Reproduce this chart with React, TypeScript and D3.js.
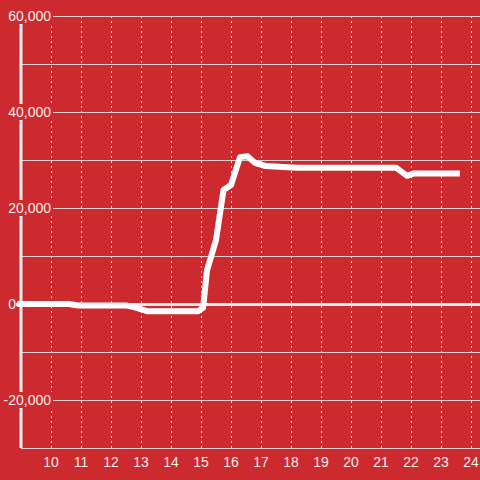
import React from "react";
import * as d3 from "d3";

const xValues = [8.87, 10.6, 10.9, 12.5, 12.8, 13.2, 14.9, 15.07, 15.2, 15.5, 15.75, 16.0, 16.3, 16.55, 16.8, 17.15, 18.2, 21.5, 21.87, 22.1, 23.63];
const yValues = [0, 0, -300, -300, -700, -1500, -1500, -800, 7000, 13300, 23750, 24800, 30600, 30800, 29400, 28750, 28400, 28400, 26700, 27200, 27200];
const xTicks = [10, 11, 12, 13, 14, 15, 16, 17, 18, 19, 20, 21, 22, 23, 24];
const yLabelTicks = [60000, 40000, 20000, 0, -20000];
const yGridTicks = [60000, 50000, 40000, 30000, 20000, 10000, 0, -10000, -20000, -30000];

const W = 480;
const H = 480;
const BG = "#cd2a2f";
const FG = "#eeeeee";

export default function App() {
  const x = d3.scaleLinear().domain([9, 24.3]).range([21, 480]);
  const y = d3.scaleLinear().domain([-30000, 60000]).range([448, 16]);
  const data = xValues.map((v, i) => [v, yValues[i]] as [number, number]);
  const line = d3
    .line<[number, number]>()
    .x((d) => x(d[0]))
    .y((d) => y(d[1]));
  const fmt = d3.format(",");
  const font = "'Liberation Sans', Arial, sans-serif";

  return (
    <svg
      width={W}
      height={H}
      style={{ position: "absolute", left: 0, top: 0, background: BG }}
    >
      <rect x={0} y={0} width={W} height={H} fill={BG} />
      {xTicks.map((t) => (
        <line
          key={"vx" + t}
          x1={x(t) + 0.5}
          x2={x(t) + 0.5}
          y1={y(60000)}
          y2={y(-30000)}
          stroke="#e6dcdc"
          strokeWidth={1}
          strokeDasharray="2,3"
        />
      ))}
      {yGridTicks.map((t) =>
        t === 0 ? null : (
          <line
            key={"hy" + t}
            x1={21}
            x2={W}
            y1={y(t) + 0.5}
            y2={y(t) + 0.5}
            stroke="#cfcfcf"
            strokeWidth={1}
          />
        )
      )}
      <line x1={16} x2={W} y1={y(0) + 0.5} y2={y(0) + 0.5} stroke={FG} strokeWidth={3} />
      <line x1={21} x2={21} y1={y(60000)} y2={y(-30000)} stroke={FG} strokeWidth={3} />
      <path
        d={line(data) || ""}
        fill="none"
        stroke="#ffffff"
        strokeWidth={6}
        strokeLinejoin="round"
      />
      {yLabelTicks.map((t) => {
        const endX = t === 0 ? 16 : 51;
        const label = fmt(t).replace("−", "-");
        return (
          <g key={"yl" + t}>
            {t !== 0 && (
              <rect x={0} y={y(t) - 8} width={53} height={16} fill={BG} />
            )}
            <text
              x={endX}
              y={y(t)}
              dy="0.36em"
              textAnchor="end"
              fill={FG}
              fontSize={14}
              fontFamily={font}
            >
              {label}
            </text>
          </g>
        );
      })}
      {xTicks.map((t) => (
        <text
          key={"xl" + t}
          x={x(t)}
          y={467}
          textAnchor="middle"
          fill={FG}
          fontSize={14}
          fontFamily={font}
        >
          {t}
        </text>
      ))}
    </svg>
  );
}
